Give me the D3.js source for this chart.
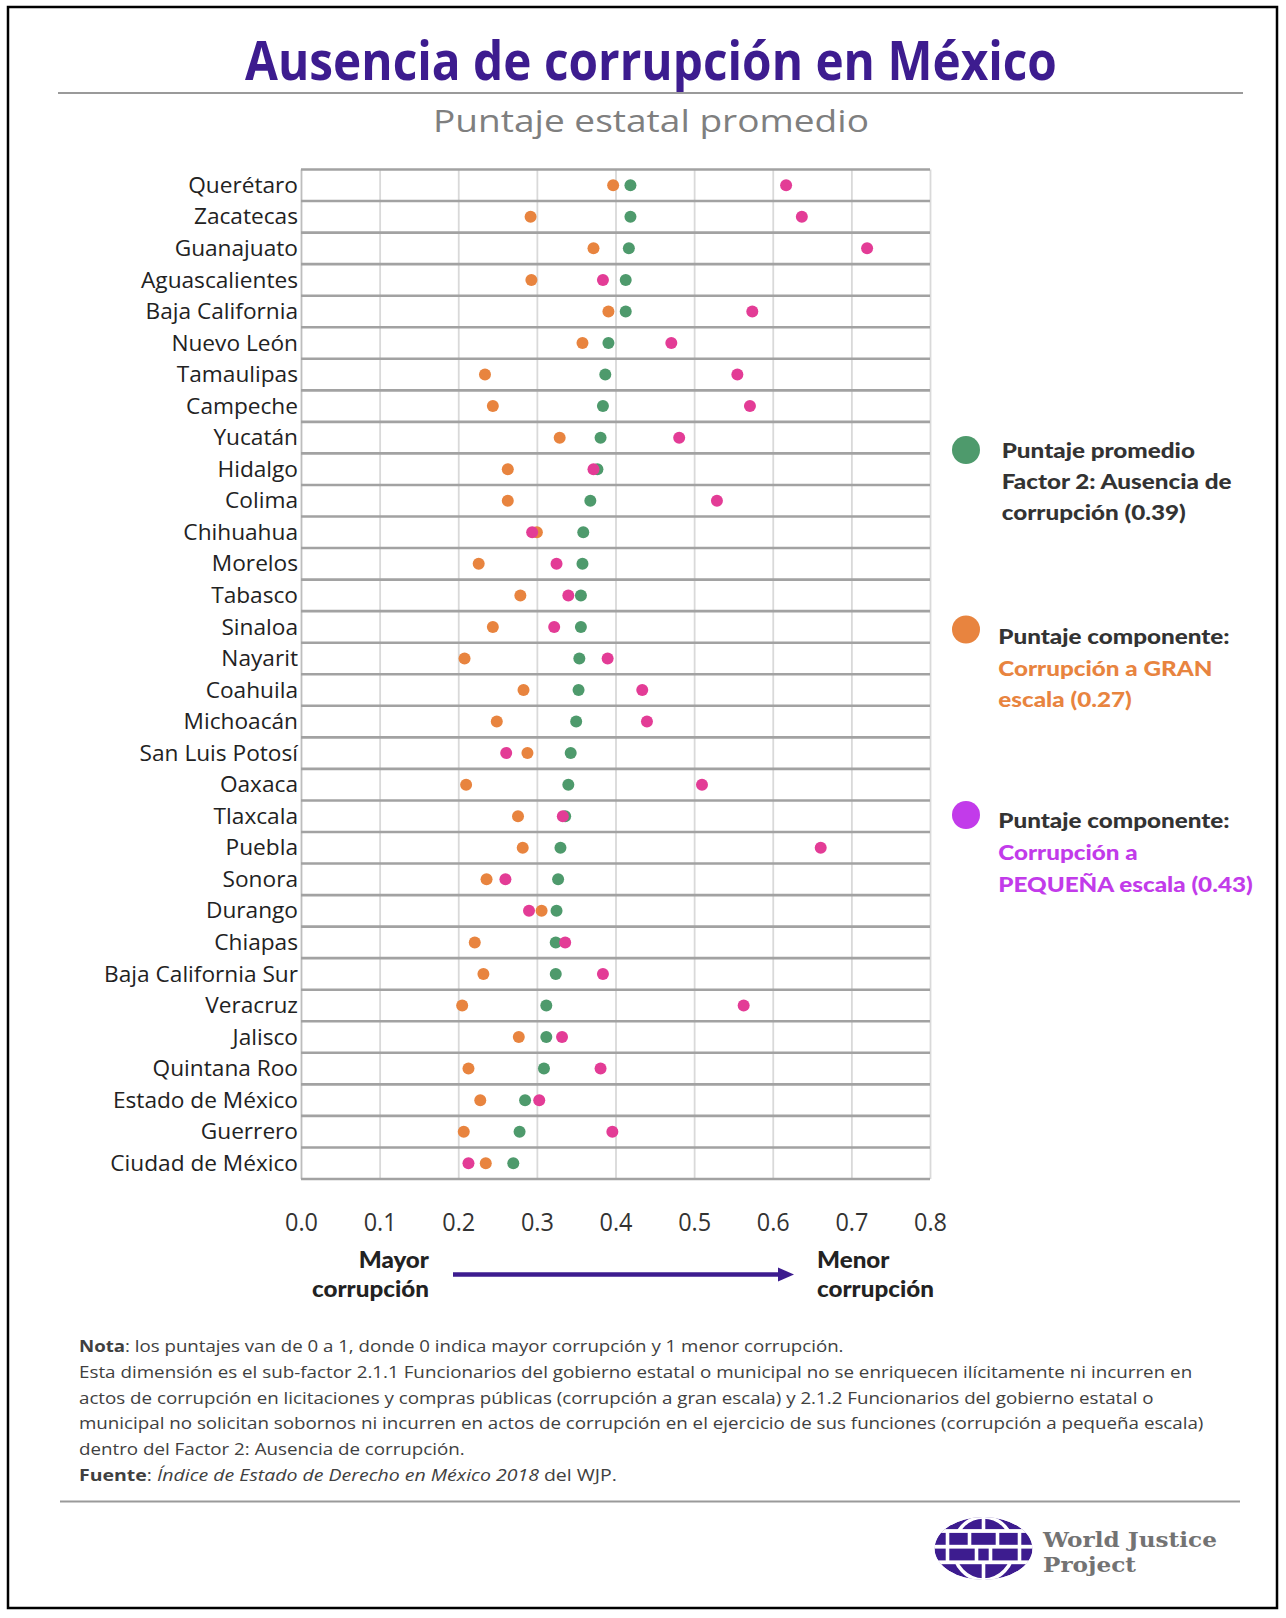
<!DOCTYPE html>
<html><head><meta charset="utf-8">
<script src="https://cdn.jsdelivr.net/npm/d3@7"></script>
<style>body{margin:0;background:#fff} svg{display:block}</style>
</head><body>
<script>
// ---------- DATA ----------
const states = ["Querétaro","Zacatecas","Guanajuato","Aguascalientes","Baja California","Nuevo León","Tamaulipas","Campeche","Yucatán","Hidalgo","Colima","Chihuahua","Morelos","Tabasco","Sinaloa","Nayarit","Coahuila","Michoacán","San Luis Potosí","Oaxaca","Tlaxcala","Puebla","Sonora","Durango","Chiapas","Baja California Sur","Veracruz","Jalisco","Quintana Roo","Estado de México","Guerrero","Ciudad de México"];
const promedio = [0.419,0.419,0.417,0.413,0.413,0.391,0.387,0.384,0.381,0.377,0.368,0.359,0.358,0.356,0.356,0.354,0.353,0.350,0.343,0.340,0.336,0.330,0.327,0.325,0.324,0.324,0.312,0.312,0.309,0.285,0.278,0.270];
const granEscala = [0.397,0.292,0.372,0.293,0.391,0.358,0.234,0.244,0.329,0.263,0.263,0.300,0.226,0.279,0.244,0.208,0.283,0.249,0.288,0.210,0.276,0.282,0.236,0.306,0.221,0.232,0.205,0.277,0.213,0.228,0.207,0.235];
const pequenaEscala = [0.617,0.637,0.720,0.384,0.574,0.471,0.555,0.571,0.481,0.372,0.529,0.294,0.325,0.340,0.322,0.390,0.434,0.440,0.261,0.510,0.333,0.661,0.260,0.290,0.336,0.384,0.563,0.332,0.381,0.303,0.396,0.213];
const xTicks = [0,0.1,0.2,0.3,0.4,0.5,0.6,0.7,0.8];

const titleText = "Ausencia de corrupción en México";
const subtitleText = "Puntaje estatal promedio";
const legendPromedio = ["Puntaje promedio","Factor 2: Ausencia de","corrupción (0.39)"];
const legendGran = ["Puntaje componente:","Corrupción a GRAN","escala (0.27)"];
const legendPequena = ["Puntaje componente:","Corrupción a","PEQUEÑA escala (0.43)"];
const axisLeftLabel = ["Mayor","corrupción"];
const axisRightLabel = ["Menor","corrupción"];
const noteLines = [
  [{t:"Nota",b:1},{t:": los puntajes van de 0 a 1, donde 0 indica mayor corrupción y 1 menor corrupción."}],
  [{t:"Esta dimensión es el sub-factor 2.1.1 Funcionarios del gobierno estatal o municipal no se enriquecen ilícitamente ni incurren en"}],
  [{t:"actos de corrupción en licitaciones y compras públicas (corrupción a gran escala) y 2.1.2 Funcionarios del gobierno estatal o"}],
  [{t:"municipal no solicitan sobornos ni incurren en actos de corrupción en el ejercicio de sus funciones (corrupción a pequeña escala)"}],
  [{t:"dentro del Factor 2: Ausencia de corrupción."}],
  [{t:"Fuente",b:1},{t:": "},{t:"Índice de Estado de Derecho en México 2018",i:1},{t:" del WJP."}]
];
const logoLines = ["World Justice","Project"];

// ---------- STYLE ----------
const C = {title:"#3d1c8f", green:"#4e9a6c", orange:"#e8843f", pink:"#e33c96", purple:"#c23bea", dark:"#333333", sub:"#7f7f7f"};
const W = 1286, H = 1618;
const svg = d3.select("body").append("svg").attr("width",W).attr("height",H);
svg.append("rect").attr("width",W).attr("height",H).attr("fill","#fff");
svg.append("rect").attr("x",8).attr("y",7).attr("width",1269).attr("height",1601)
   .attr("fill","none").attr("stroke","#000").attr("stroke-width",2.5);

function scaleAround(node, s){
  const t = d3.select(node); const x0 = +t.attr("x") || 0;
  t.attr("transform",`translate(${x0},0) scale(${s},1) translate(${-x0},0)`);
}
function fitX(node, w){
  const s = w/node.getComputedTextLength();
  scaleAround(node, s);
  return s;
}

// ---------- TITLE ----------
const title = svg.append("text").attr("x",651).attr("y",80).attr("text-anchor","middle")
  .attr("font-family","'Open Sans', sans-serif").attr("font-weight",700).attr("font-size",53)
  .attr("fill",C.title).text(titleText);
fitX(title.node(), 812);
svg.append("line").attr("x1",58).attr("x2",1243).attr("y1",93).attr("y2",93)
  .attr("stroke","#9a9a9a").attr("stroke-width",2);
const sub = svg.append("text").attr("x",651).attr("y",132).attr("text-anchor","middle")
  .attr("font-family","'Open Sans', sans-serif").attr("font-size",31)
  .attr("fill",C.sub).text(subtitleText);
fitX(sub.node(), 436);

// ---------- PLOT ----------
const plotTop = 169.5, plotBottom = 1179;
const x = d3.scaleLinear().domain([0,0.8]).range([301,930]);
const y = d3.scaleBand().domain(states).range([plotTop,plotBottom]).padding(0);

// vertical grid
const grid = svg.append("g").attr("transform",`translate(0,${plotTop})`)
  .call(d3.axisBottom(x).tickValues(xTicks).tickSize(plotBottom-plotTop).tickFormat(""));
grid.select(".domain").remove();
grid.selectAll(".tick line").attr("stroke","#d9d9d9").attr("stroke-width",1.8);
grid.selectAll(".tick").filter(d=>d===0).select("line").attr("stroke","#bdbdbd");

// row separators
const sepYs = states.map(s=>y(s)).concat([plotBottom]);
svg.append("g").selectAll("line").data(sepYs).join("line")
  .attr("x1",x(0)).attr("x2",x(0.8)).attr("y1",d=>d).attr("y2",d=>d)
  .attr("stroke","#a2a2a2").attr("stroke-width",2.6);

// dots
const series = [{v:promedio,c:C.green},{v:granEscala,c:C.orange},{v:pequenaEscala,c:C.pink}];
series.forEach(s=>{
  svg.append("g").selectAll("circle").data(states).join("circle")
    .attr("cx",(d,i)=>x(s.v[i])).attr("cy",d=>y(d)+y.bandwidth()/2).attr("r",6)
    .attr("fill",s.c);
});

// category labels
const labs = svg.append("g").selectAll("text").data(states).join("text")
  .attr("x",298).attr("y",d=>y(d)+y.bandwidth()/2+7.6).attr("text-anchor","end")
  .attr("font-family","'Open Sans', sans-serif").attr("font-size",21.5).attr("fill","#222")
  .text(d=>d);
let labScale = 1;
labs.filter(d=>d==="Baja California Sur").each(function(){ labScale = 194/this.getComputedTextLength(); });
labs.each(function(){ scaleAround(this, labScale); });

// x axis labels
const xa = svg.append("g").attr("transform","translate(0,1231)")
  .call(d3.axisBottom(x).tickValues(xTicks).tickFormat(d3.format(".1f")).tickSize(0));
xa.select(".domain").remove();
xa.selectAll(".tick text").attr("y",0).attr("dy",0)
  .attr("font-family","'Open Sans', sans-serif").attr("font-size",25).attr("fill","#333");
let tScale = 1;
xa.selectAll(".tick text").filter(d=>d===0).each(function(){ tScale = 33/this.getComputedTextLength(); });
xa.selectAll(".tick text").attr("transform",`scale(${tScale},1)`);

// direction labels
const boldFont = "Lato, 'Noto Sans', sans-serif";
const leftL = svg.append("g").selectAll("text").data(axisLeftLabel).join("text")
  .attr("x",429).attr("y",(d,i)=>1268+i*29).attr("text-anchor","end")
  .attr("font-family",boldFont).attr("font-weight",900).attr("font-size",23).attr("fill","#222").text(d=>d);
let dScale = 1;
leftL.filter((d,i)=>i===1).each(function(){ dScale = 117/this.getComputedTextLength(); });
leftL.each(function(){ scaleAround(this,dScale); });
svg.append("g").selectAll("text").data(axisRightLabel).join("text")
  .attr("x",817).attr("y",(d,i)=>1268+i*29).attr("text-anchor","start")
  .attr("font-family",boldFont).attr("font-weight",900).attr("font-size",23).attr("fill","#222").text(d=>d)
  .each(function(){ scaleAround(this,dScale); });
// arrow
svg.append("line").attr("x1",453).attr("x2",780).attr("y1",1274.5).attr("y2",1274.5)
  .attr("stroke",C.title).attr("stroke-width",4.3);
svg.append("path").attr("d","M778,1267.5 L794,1274.5 L778,1281.5 Z").attr("fill",C.title);

// ---------- LEGEND ----------
const legends = [
  {lines:legendPromedio, colors:[C.dark,C.dark,C.dark], dot:C.green, cy:450, tx:1001.7, base:[457.7,489,520]},
  {lines:legendGran, colors:[C.dark,C.orange,C.orange], dot:C.orange, cy:629.5, tx:998.3, base:[644,675.7,707.3]},
  {lines:legendPequena, colors:[C.dark,C.purple,C.purple], dot:C.purple, cy:815, tx:998.3, base:[828.3,860,891.7]}
];
let legScale = null;
legends.forEach(L=>{
  svg.append("circle").attr("cx",966).attr("cy",L.cy).attr("r",14).attr("fill",L.dot);
  const tt = svg.append("g").selectAll("text").data(L.lines).join("text")
    .attr("x",L.tx).attr("y",(d,i)=>L.base[i])
    .attr("font-family",boldFont).attr("font-weight",900).attr("font-size",21)
    .attr("fill",(d,i)=>L.colors[i]).text(d=>d);
  if(legScale===null){ tt.filter((d,i)=>i===1).each(function(){ legScale = 230/this.getComputedTextLength(); }); }
  tt.each(function(){ scaleAround(this,legScale); });
});

// ---------- NOTES ----------
const noteWidths = [765,1114,1076,1125,386,538];
noteLines.forEach((parts,li)=>{
  const t = svg.append("text").attr("x",79).attr("y",1352+li*25.8)
    .attr("font-family","'Open Sans', sans-serif").attr("font-size",16).attr("fill","#404040");
  parts.forEach(p=>{
    const ts = t.append("tspan").text(p.t);
    if(p.b) ts.attr("font-weight",700);
    if(p.i) ts.attr("font-style","italic");
  });
  fitX(t.node(), noteWidths[li]);
});

svg.append("line").attr("x1",60).attr("x2",1240).attr("y1",1501.5).attr("y2",1501.5)
  .attr("stroke","#9a9a9a").attr("stroke-width",2);

// ---------- LOGO ----------
const defs = svg.append("defs");
defs.append("clipPath").attr("id","globeClip").append("ellipse").attr("rx",49).attr("ry",31.5);
const logo = svg.append("g").attr("transform","translate(983.5,1548.5)");
const gl = logo.append("g").attr("clip-path","url(#globeClip)");
gl.append("ellipse").attr("rx",49).attr("ry",31.5).attr("fill",C.title);
const bands = [-17.5,-1.8,13.8];
bands.forEach(b=>gl.append("rect").attr("x",-60).attr("y",b-1.9).attr("width",120).attr("height",3.8).attr("fill","#fff"));
// curved meridians in the outer rows
defs.append("clipPath").attr("id","outerRows").call(cp=>{
  cp.append("rect").attr("x",-60).attr("y",-40).attr("width",120).attr("height",22.5);
  cp.append("rect").attr("x",-60).attr("y",13.8).attr("width",120).attr("height",30);
});
const mer = gl.append("g").attr("clip-path","url(#outerRows)");
mer.append("ellipse").attr("rx",30).attr("ry",31.5).attr("fill","none").attr("stroke","#fff").attr("stroke-width",3.6);
const rowsGap = [
  {y0:-33,y1:-17.5,xs:[0]},
  {y0:-17.5,y1:-1.8,xs:[-36,-14,14,36]},
  {y0:-1.8,y1:13.8,xs:[-36,-7,7,36]},
  {y0:13.8,y1:33,xs:[0]}
];
rowsGap.forEach(r=>r.xs.forEach(xx=>{
  gl.append("rect").attr("x",xx-1.8).attr("y",r.y0).attr("width",3.6).attr("height",r.y1-r.y0).attr("fill","#fff");
}));
const lt = svg.append("g").selectAll("text").data(logoLines).join("text")
  .attr("x",1043).attr("y",(d,i)=>1547+i*25)
  .attr("font-family","'DejaVu Serif', serif").attr("font-weight",700).attr("font-size",20)
  .attr("fill","#737373").text(d=>d);
let lgScale = 1;
lt.filter((d,i)=>i===0).each(function(){ lgScale = 174/this.getComputedTextLength(); });
lt.each(function(){ scaleAround(this,lgScale); });
</script>
</body></html>
